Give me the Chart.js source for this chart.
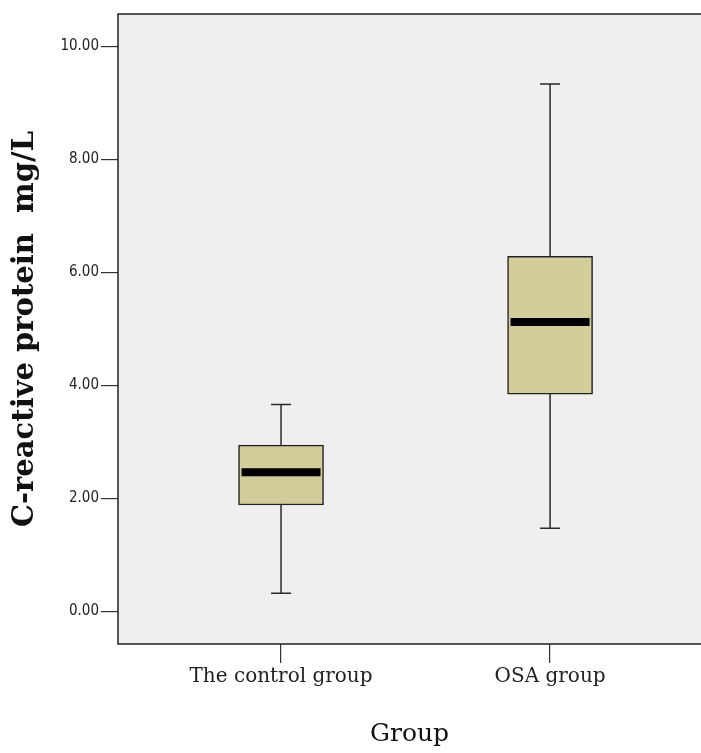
<!DOCTYPE html>
<html>
<head>
<meta charset="utf-8">
<script src="https://cdn.jsdelivr.net/npm/chart.js@4/dist/chart.umd.min.js"></script>
<style>
  html, body { margin: 0; padding: 0; background: #fff; }
  #wrap { width: 701px; height: 753px; }
</style>
</head>
<body>
<div id="wrap"><canvas id="boxChart"></canvas></div>
<script>
/* data */
const groups = ['The control group', 'OSA group'];
const groupPos = [1, 2];
const whiskerLow = [0.32, 1.47];
const q1 = [1.88, 3.84];
const median = [2.46, 5.12];
const q3 = [2.94, 6.28];
const whiskerHigh = [3.66, 9.33];
const yTicks = [0, 2, 4, 6, 8, 10];

const serif = '"DejaVu Serif", "Liberation Serif", serif';
const narrow = '"Liberation Sans Narrow", "DejaVu Sans Condensed", sans-serif';

// whiskers, caps, median bar on top of the floating boxes
const boxExtras = {
  id: 'boxExtras',
  beforeDraw(chart) {
    const { ctx, chartArea: a } = chart;
    ctx.save();
    ctx.fillStyle = '#efefef';
    ctx.fillRect(a.left, a.top, a.right - a.left, a.bottom - a.top);
    ctx.restore();
  },
  beforeDatasetsDraw(chart) {
    const { ctx, scales: { x, y } } = chart;
    ctx.save();
    ctx.strokeStyle = '#2a2a2a';
    ctx.lineWidth = 1.5;
    groupPos.forEach((g, i) => {
      const px = x.getPixelForValue(g);
      ctx.beginPath();
      ctx.moveTo(px, y.getPixelForValue(whiskerLow[i]));
      ctx.lineTo(px, y.getPixelForValue(whiskerHigh[i]));
      [whiskerLow[i], whiskerHigh[i]].forEach(v => {
        const py = y.getPixelForValue(v);
        ctx.moveTo(px - 10, py);
        ctx.lineTo(px + 10, py);
      });
      ctx.stroke();
    });
    ctx.restore();
  },
  afterDatasetsDraw(chart) {
    const { ctx, chartArea: a, scales: { x, y } } = chart;
    const bars = chart.getDatasetMeta(0).data;
    ctx.save();
    ctx.strokeStyle = '#000';
    ctx.lineWidth = 8;
    groupPos.forEach((g, i) => {
      const half = bars[i].width / 2 - 3;
      const px = x.getPixelForValue(g);
      const py = y.getPixelForValue(median[i]);
      ctx.beginPath();
      ctx.moveTo(px - half, py);
      ctx.lineTo(px + half, py);
      ctx.stroke();
    });
    // frame: left, top, bottom
    ctx.strokeStyle = '#222';
    ctx.lineWidth = 1.5;
    ctx.beginPath();
    ctx.moveTo(a.right + 2, a.top);
    ctx.lineTo(a.left, a.top);
    ctx.lineTo(a.left, a.bottom);
    ctx.lineTo(a.right + 2, a.bottom);
    ctx.stroke();
    ctx.restore();
  }
};

new Chart(document.getElementById('boxChart'), {
  type: 'bar',
  data: {
    datasets: [{
      data: groupPos.map((g, i) => ({ x: g, y: [q1[i], q3[i]] })),
      backgroundColor: '#d3cd9b',
      borderColor: '#222',
      borderWidth: 1.5,
      borderSkipped: false,
      barThickness: 85
    }]
  },
  plugins: [boxExtras],
  options: {
    responsive: true,
    maintainAspectRatio: false,
    animation: false,
    layout: { padding: { top: 14, right: 0, left: 0, bottom: 0 } },
    plugins: { legend: { display: false }, tooltip: { enabled: false } },
    scales: {
      x: {
        type: 'linear',
        offset: false,
        min: 0.394,
        max: 2.561,
        afterBuildTicks(s) { s.ticks = groupPos.map(v => ({ value: v })); },
        afterFit(s) { s.height = 109; },
        border: { display: false },
        grid: { display: true, offset: false, drawOnChartArea: false, drawTicks: true, tickLength: 19, color: '#333', lineWidth: 1.2 },
        ticks: {
          padding: 2,
          color: '#222',
          font: { family: serif, size: 20 },
          callback: v => groups[groupPos.indexOf(v)] ?? ''
        },
        title: {
          display: true,
          text: 'Group',
          color: '#111',
          font: { family: serif, size: 25 },
          padding: { top: 8 }
        }
      },
      y: {
        min: -0.58,
        max: 10.57,
        afterBuildTicks(s) { s.ticks = yTicks.map(v => ({ value: v })); },
        afterFit(s) { s.width = 118; },
        border: { display: false },
        grid: { display: true, drawOnChartArea: false, drawTicks: true, tickLength: 17, color: '#333', lineWidth: 1.2 },
        ticks: {
          padding: 2,
          color: '#222',
          font: { family: narrow, size: 15 },
          callback: v => v.toFixed(2)
        },
        title: {
          display: true,
          text: 'C-reactive protein  mg/L',
          color: '#111',
          font: { family: serif, size: 29, weight: 'bold' },
          padding: { top: 8, bottom: 0 }
        }
      }
    }
  }
});
</script>
</body>
</html>
